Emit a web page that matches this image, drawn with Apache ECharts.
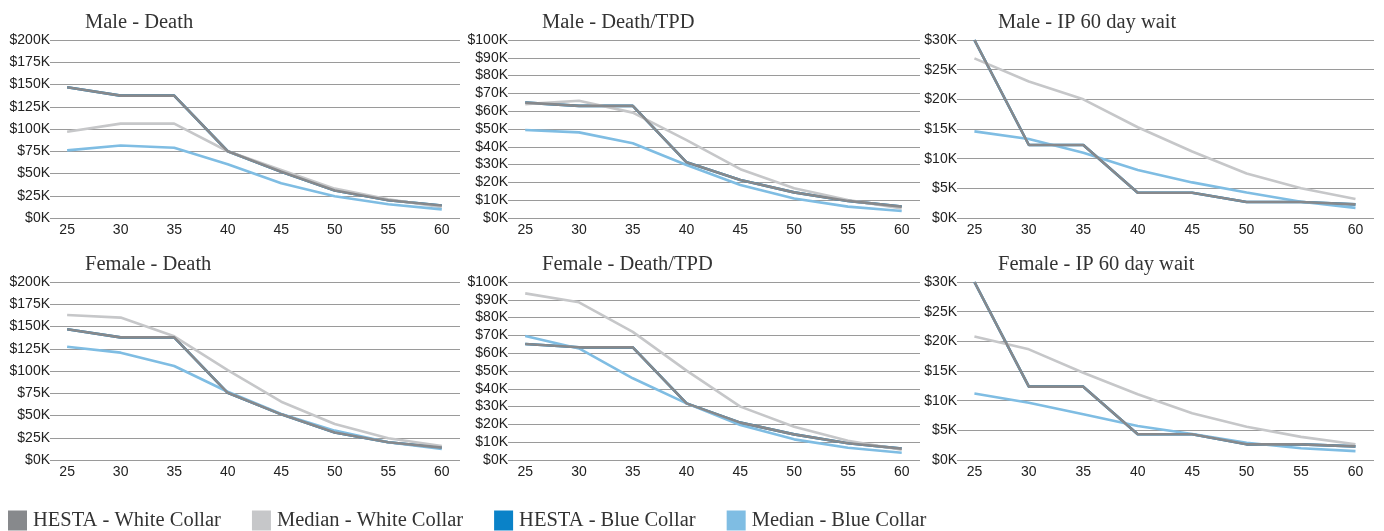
<!DOCTYPE html>
<html>
<head>
<meta charset="utf-8">
<title>HESTA insurance premiums</title>
<script src="https://cdn.jsdelivr.net/npm/echarts@6/dist/echarts.min.js"></script>
<style>
  html, body { margin: 0; padding: 0; background: #fff; }
  #main { width: 1384px; height: 531px; }
</style>
</head>
<body>
<div id="main"></div>
<script>
// ages on the x axis
const ages = [25, 30, 35, 40, 45, 50, 55, 60]
const seriesNames = ['HESTA - White Collar', 'Median - White Collar', 'HESTA - Blue Collar', 'Median - Blue Collar']
const panelTitles = ['Male - Death', 'Male - Death/TPD', 'Male - IP 60 day wait',
  'Female - Death', 'Female - Death/TPD', 'Female - IP 60 day wait']
const yMax = [200000, 100000, 30000, 200000, 100000, 30000]
const yStep = [25000, 10000, 5000, 25000, 10000, 5000]

// Male - Death
const maleDeathHestaWhite = [147000, 137500, 137500, 75000, 52000, 31000, 20000, 14000]
const maleDeathMedianWhite = [97000, 106000, 106000, 75000, 54000, 33000, 21000, 12000]
const maleDeathMedianBlue = [76000, 81500, 79000, 60500, 39000, 24500, 15500, 9700]
// Male - Death/TPD
const maleTpdHestaWhite = [64800, 63000, 63000, 31300, 21300, 14400, 9600, 6400]
const maleTpdMedianWhite = [64000, 65900, 59200, 43800, 27400, 16700, 10100, 5400]
const maleTpdMedianBlue = [49400, 48100, 42000, 29800, 18500, 11000, 6400, 3900]
// Male - IP 60 day wait
const maleIpHestaWhite = [30000, 12300, 12300, 4250, 4250, 2700, 2700, 2300]
const maleIpMedianWhite = [26900, 23000, 20000, 15300, 11200, 7500, 5000, 3200]
const maleIpMedianBlue = [14600, 13300, 11000, 8100, 6000, 4300, 2750, 1700]
// Female - Death
const femaleDeathHestaWhite = [147000, 137800, 137800, 75500, 51300, 31000, 20000, 13900]
const femaleDeathMedianWhite = [163000, 160000, 139000, 101000, 65500, 40400, 24400, 15700]
const femaleDeathMedianBlue = [127300, 120600, 105600, 76700, 51700, 33000, 19900, 12400]
// Female - Death/TPD
const femaleTpdHestaWhite = [65200, 63300, 63300, 31800, 21000, 14400, 9400, 6400]
const femaleTpdMedianWhite = [93600, 88600, 72000, 50200, 30000, 18700, 10800, 5800]
const femaleTpdMedianBlue = [69700, 62700, 45900, 31800, 19700, 11600, 6900, 4100]
// Female - IP 60 day wait
const femaleIpHestaWhite = [30000, 12360, 12360, 4330, 4330, 2640, 2640, 2300]
const femaleIpMedianWhite = [20800, 18650, 14700, 11070, 7870, 5600, 3900, 2640]
const femaleIpMedianBlue = [11200, 9660, 7700, 5730, 4380, 2900, 1970, 1500]

// HESTA quotes the same premium for both collars, so the blue collar line sits under the white one
const maleDeathHestaBlue = maleDeathHestaWhite
const maleTpdHestaBlue = maleTpdHestaWhite
const maleIpHestaBlue = maleIpHestaWhite
const femaleDeathHestaBlue = femaleDeathHestaWhite
const femaleTpdHestaBlue = femaleTpdHestaWhite
const femaleIpHestaBlue = femaleIpHestaWhite

const panelData = [
  [maleDeathHestaWhite, maleDeathMedianWhite, maleDeathHestaBlue, maleDeathMedianBlue],
  [maleTpdHestaWhite, maleTpdMedianWhite, maleTpdHestaBlue, maleTpdMedianBlue],
  [maleIpHestaWhite, maleIpMedianWhite, maleIpHestaBlue, maleIpMedianBlue],
  [femaleDeathHestaWhite, femaleDeathMedianWhite, femaleDeathHestaBlue, femaleDeathMedianBlue],
  [femaleTpdHestaWhite, femaleTpdMedianWhite, femaleTpdHestaBlue, femaleTpdMedianBlue],
  [femaleIpHestaWhite, femaleIpMedianWhite, femaleIpHestaBlue, femaleIpMedianBlue]
]

const colors = ['#87898c', '#c6c7c9', '#0a82c8', '#7fbde3']
// draw order: hidden HESTA blue first, HESTA white last (on top)
const drawOrder = [2, 1, 3, 0]

// panel layout
const cols = [
  { left: 50, width: 410, title: 85 },
  { left: 508, width: 412, title: 542 },
  { left: 957, width: 417, title: 998 }
]
const rows = [
  { top: 40, title: 12 },
  { top: 282, title: 254 }
]

const titleFont = 'Liberation Serif'
const labelFont = 'Liberation Sans, Arial'

let grids = [], xAxes = [], yAxes = [], titles = [], series = []

for (let p = 0; p < 6; p++) {
  let c = cols[p % 3]
  let r = rows[Math.floor(p / 3)]
  grids.push({ left: c.left, top: r.top, width: c.width, height: 178 })
  titles.push({
    text: panelTitles[p],
    left: c.title,
    top: r.title,
    padding: 0,
    textStyle: { fontFamily: titleFont, fontSize: 20.5, fontWeight: 'normal', color: '#333' }
  })
  xAxes.push({
    type: 'value',
    gridIndex: p,
    min: 23.4,
    max: 61.7,
    axisLine: { show: false },
    axisTick: { show: false },
    splitLine: { show: false },
    axisLabel: {
      customValues: ages,
      color: '#222',
      fontFamily: labelFont,
      fontSize: 14,
      margin: 5
    }
  })
  yAxes.push({
    type: 'value',
    gridIndex: p,
    min: 0,
    max: yMax[p],
    interval: yStep[p],
    axisLine: { show: false },
    axisTick: { show: false },
    splitLine: { lineStyle: { color: '#9a9a9a', width: 1 } },
    axisLabel: {
      color: '#222',
      fontFamily: labelFont,
      fontSize: 14,
      margin: 0,
      formatter: function (v) { return '$' + (v / 1000) + 'K' }
    }
  })
  drawOrder.forEach(function (s) {
    series.push({
      name: seriesNames[s],
      type: 'line',
      xAxisIndex: p,
      yAxisIndex: p,
      symbol: 'none',
      silent: true,
      color: colors[s],
      lineStyle: { width: 2.6, color: colors[s] },
      data: ages.map(function (a, i) { return [a, panelData[p][s][i]] })
    })
  })
}

let chart = echarts.init(document.getElementById('main'), null, { renderer: 'canvas' })
chart.setOption({
  animation: false,
  title: titles,
  grid: grids,
  xAxis: xAxes,
  yAxis: yAxes,
  legend: {
    data: seriesNames,
    left: 8,
    top: 510,
    icon: 'rect',
    itemWidth: 19,
    itemHeight: 20,
    itemGap: 31,
    padding: 0,
    textStyle: { fontFamily: titleFont, fontSize: 20.5, color: '#333', padding: [0, 0, 0, 1] }
  },
  series: series
})
</script>
</body>
</html>
